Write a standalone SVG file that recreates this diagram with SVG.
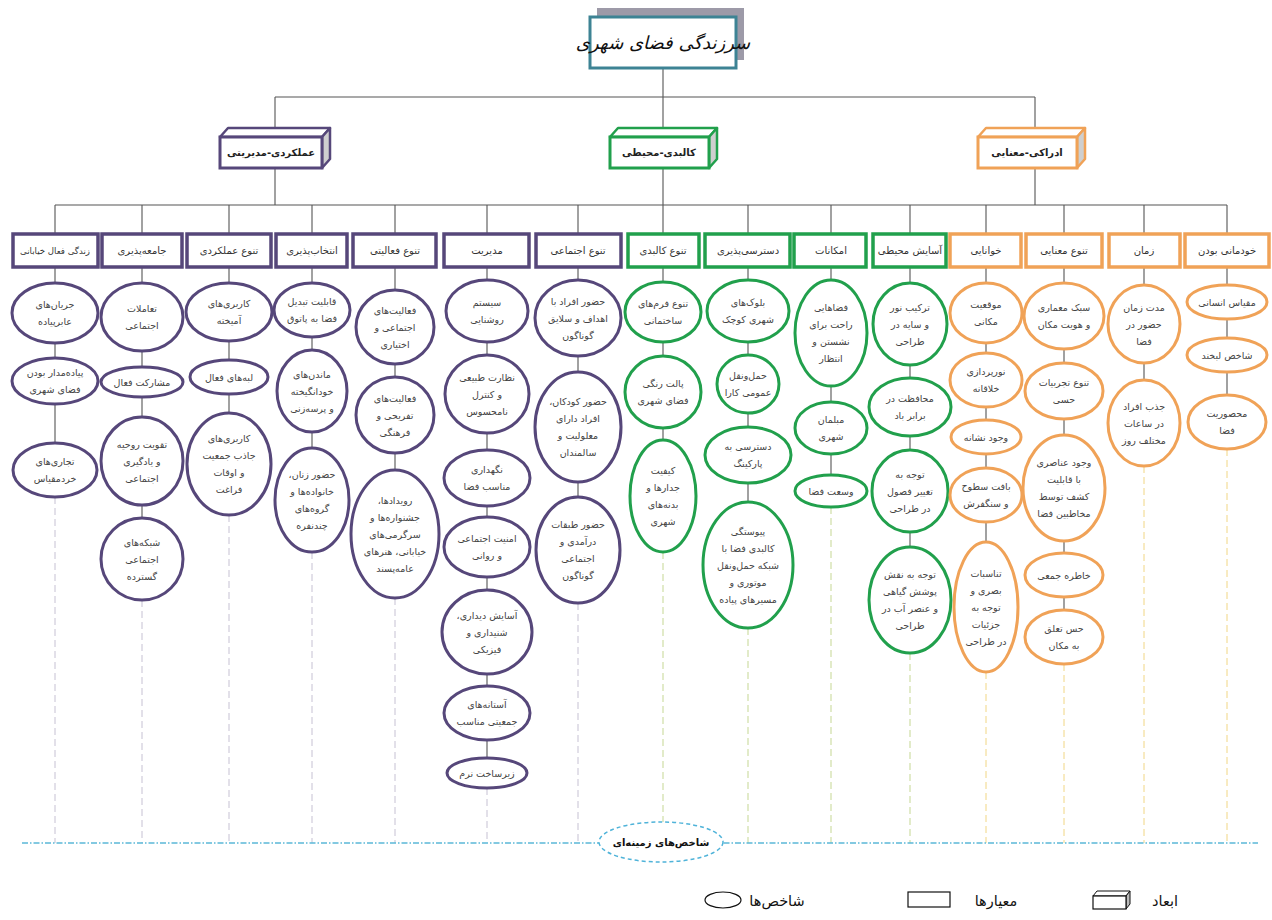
<svg xmlns="http://www.w3.org/2000/svg" width="1272" height="920" viewBox="0 0 1272 920">
<style>
text{font-family:"DejaVu Sans","Noto Sans",sans-serif;direction:rtl;text-anchor:middle}
.t{font-size:9.5px;fill:#444}
.c{font-size:10px;fill:#333}
.d{font-size:10px;font-weight:bold;fill:#222}
.n{fill:#fff;stroke-width:3}
.r{fill:#fff;stroke-width:3.5}
.p{stroke:#56477a}
.g{stroke:#21a04c}
.o{stroke:#f0a257}
.side{fill:#cfcfcf;stroke-width:2.5;stroke-linejoin:round}
.top{fill:#fff;stroke-width:2.5;stroke-linejoin:round}
.front{fill:#fff;stroke-width:3}
.ln{fill:none;stroke:#555;stroke-width:1.1}
.dp{fill:none;stroke:#c6c1d3;stroke-width:1;stroke-dasharray:7 4}
.dg{fill:none;stroke:#c5d793;stroke-width:1;stroke-dasharray:7 4}
.do{fill:none;stroke:#f1d684;stroke-width:1;stroke-dasharray:7 4}
.lg{font-size:14.5px;fill:#111}
</style>
<rect width="1272" height="920" fill="#fff"/>

<g id="connectors">
<path class="ln" d="M663 68V97M275 97H1035M275 97V128M663 97V128M1035 97V128M275 168V205M663 168V205M1035 168V205M55 205H1227
M55 205V233M142 205V233M229 205V233M312 205V233M395 205V233M487 205V233M578 205V233M663 205V233M748 205V233M831 205V233M910 205V233M986 205V233M1064 205V233M1144 205V233M1227 205V233
M55 268V283M55 343V358M55 404V443
M142 268V283M142 351V367M142 397V417M142 505V518
M229 268V283M229 341V360M229 394V413
M312 268V283M312 337V350M312 432V448
M395 268V290M395 364V377M395 453V470
M487 268V280M487 342V355M487 433V450M487 506V517M487 577V590M487 674V686M487 740V758
M578 268V280M578 356V372M578 482V497
M663 268V282M663 342V356M663 428V440
M748 268V280M748 342V355M748 413V427M748 483V502
M831 268V280M831 386V402M831 454V475
M910 268V283M910 365V378M910 436V450M910 532V547
M986 268V283M986 343V353M986 407V420M986 454V468M986 522V542
M1064 268V283M1064 349V363M1064 419V435M1064 541V553M1064 597V610
M1144 268V285M1144 363V380
M1227 268V285M1227 319V338M1227 372V395"/>
<path class="dp" d="M55 497V843M142 600V843M229 515V843M312 552V843M395 598V843M487 788V843M578 603V843"/>
<path class="dg" d="M663 552V822M748 628V843M831 507V843M910 653V843"/>
<path class="do" d="M986 672V843M1064 664V843M1144 466V843M1227 449V843"/>
<path d="M22 843H1258" fill="none" stroke="#5bb8d8" stroke-width="1.5" stroke-dasharray="6 2 1.5 2"/>
</g>

<g id="title">
<rect x="597" y="8" width="147" height="52" fill="#9d9aa8"/>
<rect x="590" y="17" width="146" height="51" fill="#fff" stroke="#3d8394" stroke-width="3"/>
<text x="663" y="49" style="font-size:18px;font-style:italic;fill:#111">سرزندگی فضای شهری</text>
</g>

<g id="dim-purple">
<polygon class="top p" points="220,137 228,128 330,128 322,137"/>
<polygon class="side p" points="322,137 330,128 330,159 322,168"/>
<rect class="front p" x="220" y="137" width="102" height="31"/>
<text class="d" x="271" y="156">عملکردی-مدیریتی</text>
</g>
<g id="dim-green">
<polygon class="top g" points="610,137 618,128 717,128 709,137"/>
<polygon class="side g" points="709,137 717,128 717,159 709,168"/>
<rect class="front g" x="610" y="137" width="99" height="31"/>
<text class="d" x="659" y="156">کالبدی-محیطی</text>
</g>
<g id="dim-orange">
<polygon class="top o" points="978,137 986,128 1085,128 1077,137"/>
<polygon class="side o" points="1077,137 1085,128 1085,159 1077,168"/>
<rect class="front o" x="978" y="137" width="99" height="31"/>
<text class="d" x="1027" y="156">ادراکی-معنایی</text>
</g>

<g id="criteria">
<g id="c1"><rect class="r p" x="13" y="234" width="85" height="33"/><text class="c" x="55" y="254" style="font-size:8.6px">زندگی فعال خیابانی</text></g>
<g id="c2"><rect class="r p" x="102" y="234" width="80" height="33"/><text class="c" x="142" y="254">جامعه&#8204;پذیری</text></g>
<g id="c3"><rect class="r p" x="187" y="234" width="84" height="33"/><text class="c" x="229" y="254">تنوع عملکردی</text></g>
<g id="c4"><rect class="r p" x="276" y="234" width="71" height="33"/><text class="c" x="312" y="254">انتخاب&#8204;پذیری</text></g>
<g id="c5"><rect class="r p" x="353" y="234" width="83" height="33"/><text class="c" x="395" y="254">تنوع فعالیتی</text></g>
<g id="c6"><rect class="r p" x="444" y="234" width="85" height="33"/><text class="c" x="487" y="254">مدیریت</text></g>
<g id="c7"><rect class="r p" x="536" y="234" width="85" height="33"/><text class="c" x="578" y="254">تنوع اجتماعی</text></g>
<g id="c8"><rect class="r g" x="628" y="234" width="71" height="33"/><text class="c" x="663" y="254">تنوع کالبدی</text></g>
<g id="c9"><rect class="r g" x="705" y="234" width="85" height="33"/><text class="c" x="748" y="254">دسترسی&#8204;پذیری</text></g>
<g id="c10"><rect class="r g" x="794" y="234" width="72" height="33"/><text class="c" x="831" y="254">امکانات</text></g>
<g id="c11"><rect class="r g" x="873" y="234" width="73" height="33"/><text class="c" x="910" y="254">آسایش محیطی</text></g>
<g id="c12"><rect class="r o" x="950" y="234" width="71" height="33"/><text class="c" x="986" y="254">خوانایی</text></g>
<g id="c13"><rect class="r o" x="1026" y="234" width="76" height="33"/><text class="c" x="1064" y="254">تنوع معنایی</text></g>
<g id="c14"><rect class="r o" x="1109" y="234" width="71" height="33"/><text class="c" x="1144" y="254">زمان</text></g>
<g id="c15"><rect class="r o" x="1185" y="234" width="84" height="33"/><text class="c" x="1227" y="254">خودمانی بودن</text></g>
</g>

<g id="indicators" class="t">
<g id="i1-1"><ellipse class="n p" cx="55" cy="313" rx="43" ry="30"/><text class="t"><tspan x="55" y="308">جریان&#8204;های</tspan><tspan x="55" y="325">عابرپیاده</tspan></text></g>
<g id="i1-2"><ellipse class="n p" cx="55" cy="381" rx="43" ry="23"/><text class="t"><tspan x="55" y="376">پیاده&#8204;مدار بودن</tspan><tspan x="55" y="393">فضای شهری</tspan></text></g>
<g id="i1-3"><ellipse class="n p" cx="55" cy="470" rx="42" ry="27"/><text class="t"><tspan x="55" y="465">تجاری&#8204;های</tspan><tspan x="55" y="482">خردمقیاس</tspan></text></g>

<g id="i2-1"><ellipse class="n p" cx="142" cy="317" rx="41" ry="34"/><text class="t"><tspan x="142" y="312">تعاملات</tspan><tspan x="142" y="329">اجتماعی</tspan></text></g>
<g id="i2-2"><ellipse class="n p" cx="142" cy="382" rx="41" ry="15"/><text class="t"><tspan x="142" y="385.5">مشارکت فعال</tspan></text></g>
<g id="i2-3"><ellipse class="n p" cx="142" cy="461" rx="41" ry="44"/><text class="t"><tspan x="142" y="447.5">تقویت روحیه</tspan><tspan x="142" y="464.5">و یادگیری</tspan><tspan x="142" y="481.5">اجتماعی</tspan></text></g>
<g id="i2-4"><ellipse class="n p" cx="142" cy="559" rx="41" ry="41"/><text class="t"><tspan x="142" y="545.5">شبکه&#8204;های</tspan><tspan x="142" y="562.5">اجتماعی</tspan><tspan x="142" y="579.5">گسترده</tspan></text></g>

<g id="i3-1"><ellipse class="n p" cx="229" cy="312" rx="43" ry="29"/><text class="t"><tspan x="229" y="307">کاربری&#8204;های</tspan><tspan x="229" y="324">آمیخته</tspan></text></g>
<g id="i3-2"><ellipse class="n p" cx="229" cy="377" rx="39" ry="17"/><text class="t"><tspan x="229" y="380.5">لبه&#8204;های فعال</tspan></text></g>
<g id="i3-3"><ellipse class="n p" cx="229" cy="464" rx="42" ry="51"/><text class="t"><tspan x="229" y="442">کاربری&#8204;های</tspan><tspan x="229" y="459">جاذب جمعیت</tspan><tspan x="229" y="476">و اوقات</tspan><tspan x="229" y="493">فراغت</tspan></text></g>

<g id="i4-1"><ellipse class="n p" cx="312" cy="310" rx="38" ry="27"/><text class="t"><tspan x="312" y="305">قابلیت تبدیل</tspan><tspan x="312" y="322">فضا به پاتوق</tspan></text></g>
<g id="i4-2"><ellipse class="n p" cx="312" cy="391" rx="35" ry="41"/><text class="t"><tspan x="312" y="377.5">ماندن&#8204;های</tspan><tspan x="312" y="394.5">خودانگیخته</tspan><tspan x="312" y="411.5">و پرسه&#8204;زنی</tspan></text></g>
<g id="i4-3"><ellipse class="n p" cx="312" cy="500" rx="37" ry="52"/><text class="t"><tspan x="312" y="478">حضور زنان،</tspan><tspan x="312" y="495">خانواده&#8204;ها و</tspan><tspan x="312" y="512">گروه&#8204;های</tspan><tspan x="312" y="529">چندنفره</tspan></text></g>

<g id="i5-1"><ellipse class="n p" cx="395" cy="327" rx="39" ry="37"/><text class="t"><tspan x="395" y="313.5">فعالیت&#8204;های</tspan><tspan x="395" y="330.5">اجتماعی و</tspan><tspan x="395" y="347.5">اختیاری</tspan></text></g>
<g id="i5-2"><ellipse class="n p" cx="395" cy="415" rx="39" ry="38"/><text class="t"><tspan x="395" y="401.5">فعالیت&#8204;های</tspan><tspan x="395" y="418.5">تفریحی و</tspan><tspan x="395" y="435.5">فرهنگی</tspan></text></g>
<g id="i5-3"><ellipse class="n p" cx="395" cy="534" rx="44" ry="64"/><text class="t"><tspan x="395" y="503.5">رویدادها،</tspan><tspan x="395" y="520.5">جشنواره&#8204;ها و</tspan><tspan x="395" y="537.5">سرگرمی&#8204;های</tspan><tspan x="395" y="554.5">خیابانی، هنرهای</tspan><tspan x="395" y="571.5">عامه&#8204;پسند</tspan></text></g>

<g id="i6-1"><ellipse class="n p" cx="487" cy="311" rx="41" ry="31"/><text class="t"><tspan x="487" y="306">سیستم</tspan><tspan x="487" y="323">روشنایی</tspan></text></g>
<g id="i6-2"><ellipse class="n p" cx="487" cy="394" rx="42" ry="39"/><text class="t"><tspan x="487" y="380.5">نظارت طبیعی</tspan><tspan x="487" y="397.5">و کنترل</tspan><tspan x="487" y="414.5">نامحسوس</tspan></text></g>
<g id="i6-3"><ellipse class="n p" cx="487" cy="478" rx="43" ry="28"/><text class="t"><tspan x="487" y="473">نگهداری</tspan><tspan x="487" y="490">مناسب فضا</tspan></text></g>
<g id="i6-4"><ellipse class="n p" cx="487" cy="547" rx="43" ry="30"/><text class="t"><tspan x="487" y="542">امنیت اجتماعی</tspan><tspan x="487" y="559">و روانی</tspan></text></g>
<g id="i6-5"><ellipse class="n p" cx="487" cy="632" rx="45" ry="42"/><text class="t"><tspan x="487" y="618.5">آسایش دیداری،</tspan><tspan x="487" y="635.5">شنیداری و</tspan><tspan x="487" y="652.5">فیزیکی</tspan></text></g>
<g id="i6-6"><ellipse class="n p" cx="487" cy="713" rx="43" ry="27"/><text class="t"><tspan x="487" y="708">آستانه&#8204;های</tspan><tspan x="487" y="725">جمعیتی مناسب</tspan></text></g>
<g id="i6-7"><ellipse class="n p" cx="487" cy="773" rx="40" ry="15"/><text class="t"><tspan x="487" y="776.5">زیرساخت نرم</tspan></text></g>

<g id="i7-1"><ellipse class="n p" cx="578" cy="318" rx="43" ry="38"/><text class="t"><tspan x="578" y="304.5">حضور افراد با</tspan><tspan x="578" y="321.5">اهداف و سلایق</tspan><tspan x="578" y="338.5">گوناگون</tspan></text></g>
<g id="i7-2"><ellipse class="n p" cx="578" cy="427" rx="43" ry="55"/><text class="t"><tspan x="578" y="405">حضور کودکان،</tspan><tspan x="578" y="422">افراد دارای</tspan><tspan x="578" y="439">معلولیت و</tspan><tspan x="578" y="456">سالمندان</tspan></text></g>
<g id="i7-3"><ellipse class="n p" cx="578" cy="550" rx="42" ry="53"/><text class="t"><tspan x="578" y="528">حضور طبقات</tspan><tspan x="578" y="545">درآمدی و</tspan><tspan x="578" y="562">اجتماعی</tspan><tspan x="578" y="579">گوناگون</tspan></text></g>

<g id="i8-1"><ellipse class="n g" cx="663" cy="312" rx="38" ry="30"/><text class="t"><tspan x="663" y="307">تنوع فرم&#8204;های</tspan><tspan x="663" y="324">ساختمانی</tspan></text></g>
<g id="i8-2"><ellipse class="n g" cx="663" cy="392" rx="38" ry="36"/><text class="t"><tspan x="663" y="387">پالت رنگی</tspan><tspan x="663" y="404">فضای شهری</tspan></text></g>
<g id="i8-3"><ellipse class="n g" cx="663" cy="496" rx="33" ry="56"/><text class="t"><tspan x="663" y="474">کیفیت</tspan><tspan x="663" y="491">جدارها و</tspan><tspan x="663" y="508">بدنه&#8204;های</tspan><tspan x="663" y="525">شهری</tspan></text></g>

<g id="i9-1"><ellipse class="n g" cx="748" cy="311" rx="41" ry="31"/><text class="t"><tspan x="748" y="306">بلوک&#8204;های</tspan><tspan x="748" y="323">شهری کوچک</tspan></text></g>
<g id="i9-2"><ellipse class="n g" cx="748" cy="384" rx="31" ry="29"/><text class="t"><tspan x="748" y="379">حمل&#8204;ونقل</tspan><tspan x="748" y="396">عمومی کارا</tspan></text></g>
<g id="i9-3"><ellipse class="n g" cx="748" cy="455" rx="43" ry="28"/><text class="t"><tspan x="748" y="450">دسترسی به</tspan><tspan x="748" y="467">پارکینگ</tspan></text></g>
<g id="i9-4"><ellipse class="n g" cx="748" cy="565" rx="45" ry="63"/><text class="t"><tspan x="748" y="534.5">پیوستگی</tspan><tspan x="748" y="551.5">کالبدی فضا با</tspan><tspan x="748" y="568.5">شبکه حمل&#8204;ونقل</tspan><tspan x="748" y="585.5">موتوری و</tspan><tspan x="748" y="602.5">مسیرهای پیاده</tspan></text></g>

<g id="i10-1"><ellipse class="n g" cx="831" cy="333" rx="36" ry="53"/><text class="t"><tspan x="831" y="311">فضاهایی</tspan><tspan x="831" y="328">راحت برای</tspan><tspan x="831" y="345">نشستن و</tspan><tspan x="831" y="362">انتظار</tspan></text></g>
<g id="i10-2"><ellipse class="n g" cx="831" cy="428" rx="36" ry="26"/><text class="t"><tspan x="831" y="423">مبلمان</tspan><tspan x="831" y="440">شهری</tspan></text></g>
<g id="i10-3"><ellipse class="n g" cx="831" cy="491" rx="36" ry="16"/><text class="t"><tspan x="831" y="494.5">وسعت فضا</tspan></text></g>

<g id="i11-1"><ellipse class="n g" cx="910" cy="324" rx="37" ry="41"/><text class="t"><tspan x="910" y="310.5">ترکیب نور</tspan><tspan x="910" y="327.5">و سایه در</tspan><tspan x="910" y="344.5">طراحی</tspan></text></g>
<g id="i11-2"><ellipse class="n g" cx="910" cy="407" rx="41" ry="29"/><text class="t"><tspan x="910" y="402">محافظت در</tspan><tspan x="910" y="419">برابر باد</tspan></text></g>
<g id="i11-3"><ellipse class="n g" cx="910" cy="491" rx="38" ry="41"/><text class="t"><tspan x="910" y="477.5">توجه به</tspan><tspan x="910" y="494.5">تغییر فصول</tspan><tspan x="910" y="511.5">در طراحی</tspan></text></g>
<g id="i11-4"><ellipse class="n g" cx="910" cy="600" rx="41" ry="53"/><text class="t"><tspan x="910" y="578">توجه به نقش</tspan><tspan x="910" y="595">پوشش گیاهی</tspan><tspan x="910" y="612">و عنصر آب در</tspan><tspan x="910" y="629">طراحی</tspan></text></g>

<g id="i12-1"><ellipse class="n o" cx="986" cy="313" rx="36" ry="30"/><text class="t"><tspan x="986" y="308">موقعیت</tspan><tspan x="986" y="325">مکانی</tspan></text></g>
<g id="i12-2"><ellipse class="n o" cx="986" cy="380" rx="36" ry="27"/><text class="t"><tspan x="986" y="375">نورپردازی</tspan><tspan x="986" y="392">خلاقانه</tspan></text></g>
<g id="i12-3"><ellipse class="n o" cx="986" cy="437" rx="35" ry="17"/><text class="t"><tspan x="986" y="440.5">وجود نشانه</tspan></text></g>
<g id="i12-4"><ellipse class="n o" cx="986" cy="495" rx="36" ry="27"/><text class="t"><tspan x="986" y="490">بافت سطوح</tspan><tspan x="986" y="507">و سنگفرش</tspan></text></g>
<g id="i12-5"><ellipse class="n o" cx="986" cy="607" rx="32" ry="65"/><text class="t"><tspan x="986" y="576.5">تناسبات</tspan><tspan x="986" y="593.5">بصری و</tspan><tspan x="986" y="610.5">توجه به</tspan><tspan x="986" y="627.5">جزئیات</tspan><tspan x="986" y="644.5">در طراحی</tspan></text></g>

<g id="i13-1"><ellipse class="n o" cx="1064" cy="316" rx="40" ry="33"/><text class="t"><tspan x="1064" y="311">سبک معماری</tspan><tspan x="1064" y="328">و هویت مکان</tspan></text></g>
<g id="i13-2"><ellipse class="n o" cx="1064" cy="391" rx="39" ry="28"/><text class="t"><tspan x="1064" y="386">تنوع تجربیات</tspan><tspan x="1064" y="403">حسی</tspan></text></g>
<g id="i13-3"><ellipse class="n o" cx="1064" cy="488" rx="41" ry="53"/><text class="t"><tspan x="1064" y="466">وجود عناصری</tspan><tspan x="1064" y="483">با قابلیت</tspan><tspan x="1064" y="500">کشف توسط</tspan><tspan x="1064" y="517">مخاطبین فضا</tspan></text></g>
<g id="i13-4"><ellipse class="n o" cx="1064" cy="575" rx="39" ry="22"/><text class="t"><tspan x="1064" y="578.5">خاطره جمعی</tspan></text></g>
<g id="i13-5"><ellipse class="n o" cx="1064" cy="637" rx="39" ry="27"/><text class="t"><tspan x="1064" y="632">حس تعلق</tspan><tspan x="1064" y="649">به مکان</tspan></text></g>

<g id="i14-1"><ellipse class="n o" cx="1144" cy="324" rx="36" ry="39"/><text class="t"><tspan x="1144" y="310.5">مدت زمان</tspan><tspan x="1144" y="327.5">حضور در</tspan><tspan x="1144" y="344.5">فضا</tspan></text></g>
<g id="i14-2"><ellipse class="n o" cx="1144" cy="423" rx="36" ry="43"/><text class="t"><tspan x="1144" y="409.5">جذب افراد</tspan><tspan x="1144" y="426.5">در ساعات</tspan><tspan x="1144" y="443.5">مختلف روز</tspan></text></g>

<g id="i15-1"><ellipse class="n o" cx="1227" cy="302" rx="40" ry="17"/><text class="t"><tspan x="1227" y="305.5">مقیاس انسانی</tspan></text></g>
<g id="i15-2"><ellipse class="n o" cx="1227" cy="355" rx="40" ry="17"/><text class="t"><tspan x="1227" y="358.5">شاخص لبخند</tspan></text></g>
<g id="i15-3"><ellipse class="n o" cx="1227" cy="422" rx="39" ry="27"/><text class="t"><tspan x="1227" y="417">محصوریت</tspan><tspan x="1227" y="434">فضا</tspan></text></g>
</g>

<g id="context">
<ellipse cx="661" cy="842" rx="62" ry="20" fill="#fff" stroke="#4fb3d9" stroke-width="1.5" stroke-dasharray="4 3"/>
<text x="661" y="846" style="font-size:10px;font-weight:bold;fill:#111">شاخص&#8204;های زمینه&#8204;ای</text>
</g>

<g id="legend">
<ellipse cx="723" cy="900" rx="18" ry="8" fill="#fff" stroke="#111" stroke-width="1.2"/>
<text class="lg" x="777" y="906">شاخص&#8204;ها</text>
<rect x="908" y="892" width="42" height="15" fill="#fff" stroke="#111" stroke-width="1.2"/>
<text class="lg" x="996" y="906">معیارها</text>
<polygon points="1093,896 1097,891 1130,891 1126,896" fill="#fff" stroke="#111" stroke-width="1"/>
<polygon points="1126,896 1130,891 1130,904 1126,909" fill="#bbb" stroke="#111" stroke-width="1"/>
<rect x="1093" y="896" width="33" height="13" fill="#fff" stroke="#111" stroke-width="1.2"/>
<text class="lg" x="1165" y="906">ابعاد</text>
</g>
</svg>
